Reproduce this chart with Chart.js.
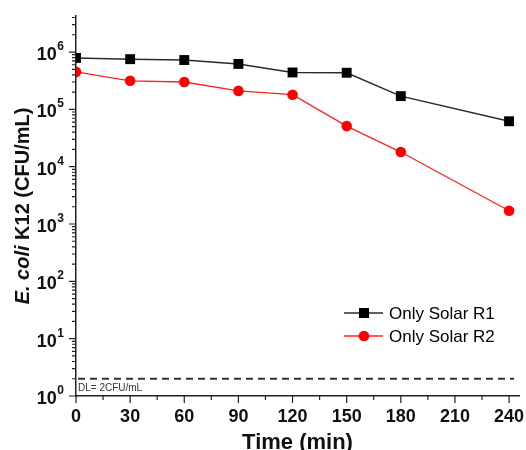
<!DOCTYPE html>
<html>
<head>
<meta charset="utf-8">
<script src="https://cdn.jsdelivr.net/npm/chart.js@4.4.1/dist/chart.umd.min.js"></script>
<style>
  html, body { margin: 0; padding: 0; background: #fff; }
  #wrap { width: 526px; height: 450px; }
</style>
</head>
<body>
<div id="wrap"><canvas id="myChart" width="526" height="450"></canvas></div>
<script>
// sampling times (min)
let times = [0, 30, 60, 90, 120, 150, 180, 240];
// E. coli K12 counts (CFU/mL)
let solarR1 = [7.9e5, 7.5e5, 7.25e5, 6.2e5, 4.4e5, 4.35e5, 1.7e5, 6.2e4];
let solarR2 = [4.5e5, 3.15e5, 3.0e5, 2.1e5, 1.8e5, 5.1e4, 1.8e4, 1.7e3];
let seriesNames = ['Only Solar R1', 'Only Solar R2'];
// axis ticks
let xTicks = [0, 30, 60, 90, 120, 150, 180, 210, 240];
let yDecades = [0, 1, 2, 3, 4, 5, 6];
let detectionLimit = 2;

const FONT = '"Liberation Sans", Arial, sans-serif';

function drawMarker(ctx, style, x, y, color) {
    ctx.fillStyle = color;
    if (style === 'rect') {
        ctx.fillRect(x - 5, y - 5, 10, 10);
    } else {
        ctx.beginPath();
        ctx.arc(x, y, 5.3, 0, Math.PI * 2);
        ctx.fill();
    }
}

let decorations = {
    id: 'decorations',
    afterDraw(chart) {
        let ctx = chart.ctx;
        let xs = chart.scales.x, ys = chart.scales.y;
        let area = chart.chartArea;
        ctx.save();

        // tick marks
        ctx.strokeStyle = '#222';
        ctx.lineWidth = 1.2;
        ctx.beginPath();
        xTicks.forEach((t, i) => {
            let px = xs.getPixelForValue(t);
            ctx.moveTo(px, area.bottom);
            ctx.lineTo(px, area.bottom + 7);
            if (i < xTicks.length - 1) {
                let mx = xs.getPixelForValue((t + xTicks[i + 1]) / 2);
                ctx.moveTo(mx, area.bottom);
                ctx.lineTo(mx, area.bottom + 4);
            }
        });
        yDecades.forEach(d => {
            for (let k = 1; k <= 9; k++) {
                let v = k * Math.pow(10, d);
                if (v > ys.max) break;
                let py = ys.getPixelForValue(v);
                ctx.moveTo(area.left, py);
                ctx.lineTo(area.left - (k === 1 ? 7 : 4), py);
            }
        });
        ctx.stroke();

        // tick labels
        ctx.fillStyle = '#111';
        ctx.font = 'bold 18px ' + FONT;
        ctx.textAlign = 'center';
        ctx.textBaseline = 'alphabetic';
        xTicks.forEach(t => {
            ctx.fillText(String(t), xs.getPixelForValue(t), area.bottom + 26);
        });
        yDecades.forEach(d => {
            let py = ys.getPixelForValue(Math.pow(10, d));
            ctx.textAlign = 'right';
            ctx.font = 'bold 12px ' + FONT;
            let supRight = area.left - 12;
            let supW = ctx.measureText(String(d)).width;
            ctx.fillText(String(d), supRight, py - 2);
            ctx.font = 'bold 18px ' + FONT;
            ctx.fillText('10', supRight - supW - 0.5, py + 8);
        });

        // axis titles
        ctx.textAlign = 'center';
        ctx.font = 'bold 22px ' + FONT;
        ctx.fillText('Time (min)', (area.left + area.right) / 2, 449);

        ctx.save();
        ctx.translate(29, (area.top + area.bottom) / 2);
        ctx.rotate(-Math.PI / 2);
        ctx.textAlign = 'left';
        let italicFont = 'italic bold 20px ' + FONT;
        let boldFont = 'bold 20px ' + FONT;
        ctx.font = italicFont;
        let w1 = ctx.measureText('E. coli').width;
        ctx.font = boldFont;
        let w2 = ctx.measureText(' K12 (CFU/mL)').width;
        let start = -(w1 + w2) / 2;
        ctx.font = italicFont;
        ctx.fillText('E. coli', start, 0);
        ctx.font = boldFont;
        ctx.fillText(' K12 (CFU/mL)', start + w1, 0);
        ctx.restore();

        // detection limit
        let dly = ys.getPixelForValue(detectionLimit);
        ctx.strokeStyle = '#333';
        ctx.lineWidth = 1.8;
        ctx.setLineDash([7, 5]);
        ctx.beginPath();
        ctx.moveTo(area.left + 2, dly);
        ctx.lineTo(area.right - 5, dly);
        ctx.stroke();
        ctx.setLineDash([]);
        ctx.fillStyle = '#333';
        ctx.font = '10px ' + FONT;
        ctx.textAlign = 'left';
        ctx.fillText('DL= 2CFU/mL', area.left + 2, dly + 12.5);

        // legend
        let rows = [313, 336];
        chart.data.datasets.forEach((ds, i) => {
            let y = rows[i];
            ctx.strokeStyle = ds.borderColor;
            ctx.lineWidth = 1.5;
            ctx.beginPath();
            ctx.moveTo(344, y);
            ctx.lineTo(383, y);
            ctx.stroke();
            drawMarker(ctx, ds.pointStyle, 364, y, ds.backgroundColor);
            ctx.fillStyle = '#000';
            ctx.font = '17px ' + FONT;
            ctx.textAlign = 'left';
            ctx.textBaseline = 'middle';
            ctx.fillText(ds.label, 389, y + 1);
        });

        ctx.restore();
    }
};

let ctx = document.getElementById('myChart').getContext('2d');
let myChart = new Chart(ctx, {
    type: 'line',
    data: {
        datasets: [{
            label: seriesNames[0],
            data: times.map((t, i) => ({ x: t, y: solarR1[i] })),
            borderColor: '#2a2a2a',
            backgroundColor: '#000',
            borderWidth: 1.5,
            pointStyle: 'rect',
            pointRadius: 7,
            pointBorderWidth: 0,
            pointHoverRadius: 7,
            clip: { left: 0, top: false, right: false, bottom: false }
        }, {
            label: seriesNames[1],
            data: times.map((t, i) => ({ x: t, y: solarR2[i] })),
            borderColor: '#ff2020',
            backgroundColor: '#ff0000',
            borderWidth: 1.3,
            pointStyle: 'circle',
            pointRadius: 5.3,
            pointBorderWidth: 0,
            pointHoverRadius: 5.3,
            clip: { left: 0, top: false, right: false, bottom: false }
        }]
    },
    options: {
        responsive: false,
        animation: false,
        devicePixelRatio: 1,
        layout: { padding: { top: 16, right: 6, left: 0, bottom: 0 } },
        plugins: {
            legend: { display: false },
            tooltip: { enabled: false }
        },
        scales: {
            x: {
                type: 'linear',
                min: 0,
                max: 245.5,
                grid: { display: false, drawTicks: false },
                ticks: { display: false },
                border: { display: true, color: '#222', width: 1.5 },
                afterFit: s => { s.height = 54; }
            },
            y: {
                type: 'logarithmic',
                min: 1,
                max: 4.25e6,
                grid: { display: false, drawTicks: false },
                ticks: { display: false },
                border: { display: true, color: '#222', width: 1.5 },
                afterFit: s => { s.width = 76; }
            }
        }
    },
    plugins: [decorations]
});
</script>
</body>
</html>
